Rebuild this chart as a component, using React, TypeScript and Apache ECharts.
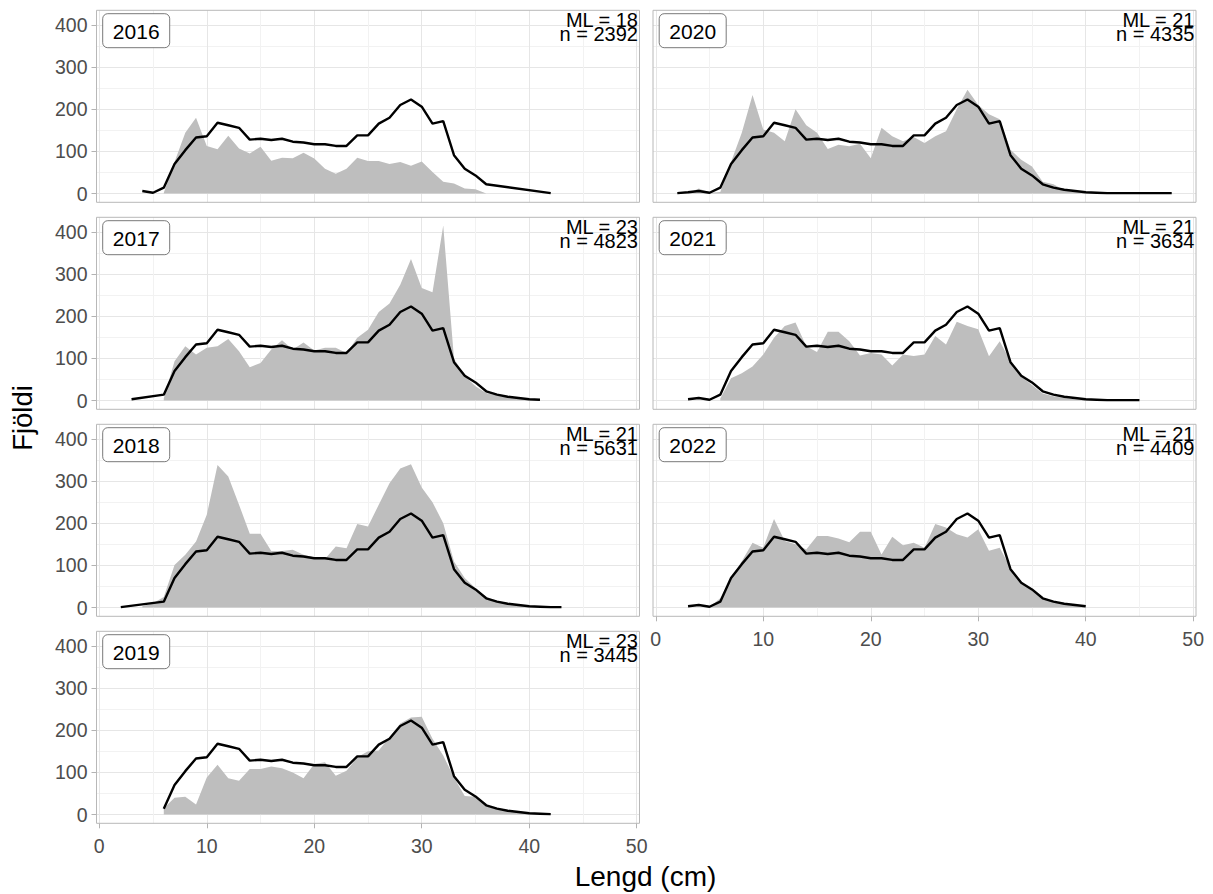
import React, { useEffect, useRef } from 'react';
import * as echarts from 'echarts';

// ---------- data ----------
const YEARS = [2016, 2017, 2018, 2019, 2020, 2021, 2022];
const ML = [18, 23, 21, 23, 21, 21, 21];
const N = [2392, 4823, 5631, 3445, 4335, 3634, 4409];

// reference (all years) curve, lengths 2..48
const MEAN_START = 2;
const meanLine = [
  1, 3, 6, 2, 14, 70, 103, 133, 136, 168, 162, 156, 128, 130, 127, 130, 123, 121, 117, 117,
  113, 113, 138, 138, 166, 180, 210, 223, 206, 166, 172, 91, 59, 43, 22, 14, 9, 6, 3, 2,
  1, 1, 1, 1, 1, 1, 1,
];

// length spans where the reference curve is drawn in each panel
const lineSpans2016 = [[4, 36], [42, 42]];
const lineSpans2017 = [[3, 3], [6, 41]];
const lineSpans2018 = [[2, 2], [6, 43]];
const lineSpans2019 = [[6, 42]];
const lineSpans2020 = [[2, 48]];
const lineSpans2021 = [[3, 45]];
const lineSpans2022 = [[3, 40]];
const LINE_SPANS = [lineSpans2016, lineSpans2017, lineSpans2018, lineSpans2019, lineSpans2020, lineSpans2021, lineSpans2022];

// yearly length distributions (first length, then counts per cm)
const GRAY_START = [6, 6, 4, 6, 3, 6, 5];
const gray2016 = [2, 75, 144, 180, 113, 105, 137, 107, 95, 111, 78, 85, 84, 97, 83, 59, 47, 59, 85, 77, 77, 70, 75, 66, 76, 51, 28, 24, 12, 10, 0];
const gray2017 = [5, 93, 129, 109, 125, 129, 146, 117, 79, 89, 121, 143, 121, 138, 119, 125, 125, 113, 149, 168, 210, 230, 275, 336, 267, 257, 415, 100, 58, 34, 18, 12, 8, 5, 3, 0];
const gray2018 = [3, 10, 25, 101, 125, 157, 220, 338, 311, 244, 175, 175, 134, 134, 137, 125, 119, 115, 145, 141, 198, 192, 244, 295, 330, 340, 285, 250, 200, 109, 70, 46, 25, 15, 10, 6, 3, 1, 0];
const gray2019 = [15, 40, 42, 24, 88, 118, 86, 80, 108, 108, 114, 110, 100, 86, 120, 124, 92, 104, 136, 150, 152, 184, 216, 230, 232, 180, 140, 88, 44, 42, 20, 12, 8, 5, 3, 1, 0];
const gray2020 = [1, 12, 2, 4, 75, 144, 234, 152, 144, 124, 200, 162, 144, 106, 116, 112, 118, 84, 156, 136, 124, 134, 120, 136, 148, 200, 246, 210, 188, 176, 104, 80, 64, 28, 22, 8, 4, 2, 1, 1, 1, 1, 1, 1, 1, 1];
const gray2021 = [5, 53, 65, 81, 109, 149, 177, 185, 129, 115, 163, 163, 141, 107, 113, 109, 83, 109, 106, 109, 153, 133, 187, 177, 169, 105, 141, 93, 57, 37, 17, 10, 6, 3, 2, 0];
const gray2022 = [2, 22, 70, 110, 154, 142, 210, 158, 150, 138, 170, 170, 164, 155, 180, 180, 126, 168, 148, 154, 142, 198, 190, 174, 166, 186, 135, 142, 94, 62, 42, 22, 14, 8, 4, 2];
const GRAY = [gray2016, gray2017, gray2018, gray2019, gray2020, gray2021, gray2022];

const X_MAX_TICK = 50;
const X_INTERVAL = 10;
const Y_MAX_TICK = 400;
const Y_INTERVAL = 100;

// ---------- layout ----------
const FONT = "'Liberation Sans', Arial, sans-serif";
const COL_LEFT = [96.5, 653];
const PANEL_W = 543;
const PANEL_H = 192;
const ROW_TOP0 = 10.3;
const ROW_STEP = 207;
const XMIN = -0.26;
const XMAX = 50.26;
const YMIN = -20.7;
const YMAX = 434.7;
const BORDER = '#B8B8B8';
const MAJOR = '#E6E6E6';
const MINOR = '#F2F2F2';
const AREA = '#BEBEBE';

function buildOption() {
  const kx = PANEL_W / (XMAX - XMIN);
  const ky = PANEL_H / (YMAX - YMIN);
  const grid: any[] = [];
  const xAxis: any[] = [];
  const yAxis: any[] = [];
  const series: any[] = [];
  const graphic: any[] = [];

  YEARS.forEach((year, i) => {
    const col = i < 4 ? 0 : 1;
    const row = i < 4 ? i : i - 4;
    const left = COL_LEFT[col];
    const top = ROW_TOP0 + row * ROW_STEP;
    const showX = i === 3 || i === 6;
    const showY = col === 0;
    const g = i * 3;

    // data grid (panel with border)
    grid.push({ left, top, width: PANEL_W, height: PANEL_H, show: true, borderColor: BORDER, borderWidth: 1, backgroundColor: 'transparent', z: 1 });
    xAxis.push({ gridIndex: g, type: 'value', min: XMIN, max: XMAX, show: false });
    yAxis.push({ gridIndex: g, type: 'value', min: YMIN, max: YMAX, show: false });

    // vertical grid lines + x labels
    grid.push({ left: left + (0 - XMIN) * kx, top, width: X_MAX_TICK * kx, height: PANEL_H, show: false });
    xAxis.push({
      gridIndex: g + 1, type: 'value', min: 0, max: X_MAX_TICK, interval: X_INTERVAL,
      axisLine: { show: false },
      axisTick: { show: showX, length: 5, lineStyle: { color: '#B3B3B3', width: 1 } },
      axisLabel: { show: showX, margin: 13, fontSize: 19.5, color: '#4D4D4D', fontFamily: FONT },
      splitLine: { show: true, lineStyle: { color: MAJOR, width: 1 } },
      minorTick: { show: false, splitNumber: 2 },
      minorSplitLine: { show: true, lineStyle: { color: MINOR, width: 1 } },
      z: 0,
    });
    yAxis.push({ gridIndex: g + 1, type: 'value', min: 0, max: 1, show: false });

    // horizontal grid lines + y labels
    grid.push({ left, top: top + (YMAX - Y_MAX_TICK) * ky, width: PANEL_W, height: Y_MAX_TICK * ky, show: false });
    xAxis.push({ gridIndex: g + 2, type: 'value', min: 0, max: 1, show: false });
    yAxis.push({
      gridIndex: g + 2, type: 'value', min: 0, max: Y_MAX_TICK, interval: Y_INTERVAL,
      axisLine: { show: false },
      axisTick: { show: showY, length: 5, lineStyle: { color: '#B3B3B3', width: 1 } },
      axisLabel: { show: showY, margin: 9, fontSize: 19.5, color: '#4D4D4D', fontFamily: FONT },
      splitLine: { show: true, lineStyle: { color: MAJOR, width: 1 } },
      minorTick: { show: false, splitNumber: 2 },
      minorSplitLine: { show: true, lineStyle: { color: MINOR, width: 1 } },
      z: 0,
    });

    const grayData = GRAY[i].map((v, j) => [GRAY_START[i] + j, v]);
    series.push({
      type: 'line', xAxisIndex: g, yAxisIndex: g, data: grayData, symbol: 'none',
      lineStyle: { width: 0, color: AREA }, areaStyle: { color: AREA, opacity: 1 }, z: 2, silent: true,
    });

    const lineData: number[][] = [];
    LINE_SPANS[i].forEach(([a, b]) => {
      for (let L = a; L <= b; L++) lineData.push([L, meanLine[L - MEAN_START]]);
    });
    series.push({
      type: 'line', xAxisIndex: g, yAxisIndex: g, data: lineData, symbol: 'none',
      lineStyle: { width: 2.4, color: '#000' }, z: 3, silent: true,
    });

    // year label box
    graphic.push({
      type: 'rect', x: left + 6.2, y: top + 3.4, z: 50,
      shape: { x: 0, y: 0, width: 67, height: 34, r: 5 },
      style: { fill: '#fff', stroke: '#555', lineWidth: 0.8 },
    });
    graphic.push({
      type: 'text', x: left + 6.2 + 33.5, y: top + 3.4 + 17.5, z: 51,
      style: { text: String(year), fontSize: 21, fontFamily: FONT, fill: '#000', align: 'center', verticalAlign: 'middle' },
    });
    graphic.push({
      type: 'text', x: left + PANEL_W - 1.5, y: top + 2.6, z: 51,
      style: {
        text: `ML = ${ML[i]}\nn = ${N[i]}`, fontSize: 20, lineHeight: 14, fontFamily: FONT, fill: '#000',
        align: 'right', verticalAlign: 'top',
      },
    });
  });

  graphic.push({
    type: 'text', x: 22, y: 418, rotation: Math.PI / 2, z: 51,
    style: { text: 'Fjöldi', fontSize: 27.5, fontFamily: FONT, fill: '#000', align: 'center', verticalAlign: 'middle' },
  });
  graphic.push({
    type: 'text', x: 645.5, y: 876, z: 51,
    style: { text: 'Lengd (cm)', fontSize: 28, fontFamily: FONT, fill: '#000', align: 'center', verticalAlign: 'middle' },
  });

  return { animation: false, backgroundColor: '#fff', grid, xAxis, yAxis, series, graphic };
}

export default function App() {
  const ref = useRef<HTMLDivElement>(null);
  useEffect(() => {
    if (!ref.current) return;
    const chart = echarts.init(ref.current, undefined, { renderer: 'svg' });
    chart.setOption(buildOption() as any);
    return () => chart.dispose();
  }, []);
  return <div ref={ref} style={{ position: 'absolute', left: 0, top: 0, width: 1213, height: 894 }} />;
}
